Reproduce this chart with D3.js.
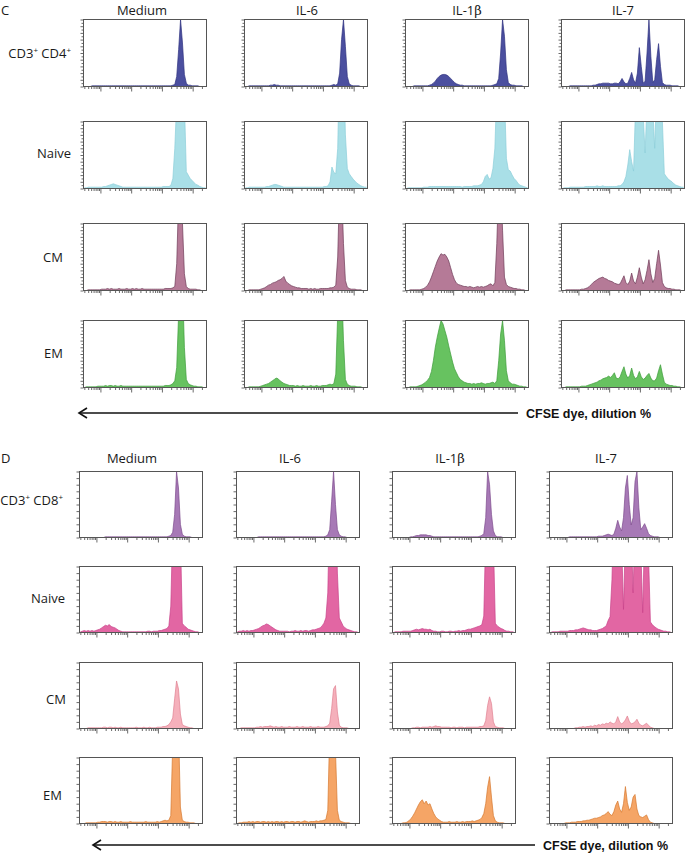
<!DOCTYPE html>
<html><head><meta charset="utf-8">
<script src="https://cdn.jsdelivr.net/npm/d3@7"></script>
<style>body{margin:0;background:#fff}svg{display:block}</style>
</head><body>
<svg id="chart" width="687" height="853"></svg>
<script>
// ---------- categories / labels ----------
const conditions = ["Medium", "IL-6", "IL-1β", "IL-7"];
const rowLabelsC = ["CD3+ CD4+", "Naive", "CM", "EM"];
const rowLabelsD = ["CD3+ CD8+", "Naive", "CM", "EM"];
const axisLabel = "CFSE dye, dilution %";
const panelLetters = ["C", "D"];
// y ticks (% of max count), x log decades
const yTicks = [0,10,20,30,40,50,60,70,80,90,100];
const xDecades = [1, 10, 100, 1000, 10000];

// ---------- histogram values (64 log-spaced CFSE bins, % of max) ----------
const C_CD4_Medium = [0,0,0,0,1,1,1,1, 1,1,1,1,1,1,1,1, 1,1,1,1,1,1,1,1, 1,1,1,1,1,1,1,1, 1,1,1,1,1,1,1,1, 1,1,1,1,1,1,2,3, 15,55,100,65,18,5,2,2, 1,1,1,1,0,0,0,0];
const C_CD4_IL6 = [0,0,1,1,1,1,1,1, 1,1,1,1,1,2,2,3, 2,2,1,1,1,1,1,1, 1,1,1,1,1,1,1,1, 1,1,1,1,1,1,1,1, 1,1,1,1,1,2,3,2, 4,20,70,100,60,15,4,2, 1,1,1,1,0,0,0,0];
const C_CD4_IL1b = [0,0,0,0,1,1,1,1, 1,1,1,1,2,3,5,8, 12,15,17,18,18,17,15,12, 9,6,4,3,2,2,1,1, 1,1,1,1,1,1,1,1, 1,1,1,1,1,2,3,4, 12,50,100,75,25,6,3,2, 2,1,1,1,1,0,0,0];
const C_CD4_IL7 = [0,0,0,0,1,1,1,1, 1,1,1,1,1,1,1,1, 2,2,3,4,4,5,5,5, 5,4,4,5,5,4,7,12, 7,4,5,12,21,10,5,20, 58,30,5,8,50,100,45,6, 10,40,64,30,6,3,2,2, 2,1,1,1,1,0,0,0];

const C_Naive_Medium = [1,1,2,2,2,2,2,2, 2,2,3,3,4,5,6,7, 6,5,4,3,2,2,2,2, 2,2,2,2,2,2,2,2, 2,2,2,2,2,2,2,2, 2,3,3,3,3,5,15,60, 130,200,200,200,130,25,20,15, 12,9,6,5,3,2,1,1];
const C_Naive_IL6 = [1,1,2,2,2,2,2,2, 2,2,2,3,3,4,5,6, 6,5,4,3,2,2,2,2, 2,2,2,2,2,2,2,2, 2,2,2,2,2,2,2,2, 2,3,3,4,10,32,24,22, 60,200,200,200,80,30,22,18, 14,11,8,6,4,3,2,2];
const C_Naive_IL1b = [0,1,1,1,1,1,1,1, 1,2,2,2,3,3,3,3, 3,3,3,3,3,3,3,3, 3,3,3,3,3,2,3,3, 3,3,3,4,4,4,5,6, 10,18,21,14,16,30,60,150, 200,200,200,140,45,28,26,20, 15,12,8,5,4,3,2,1];
const C_Naive_IL7 = [0,1,1,1,2,2,2,2, 2,2,2,2,3,3,3,3, 3,3,4,3,3,4,3,3, 3,3,3,3,3,4,4,6, 10,18,35,58,40,26,120,200, 200,200,110,53,130,200,200,120, 60,150,200,200,100,22,18,14, 12,10,7,5,4,3,2,2];

const C_CM_Medium = [0,0,1,1,1,1,1,1, 1,2,2,2,3,2,3,2, 2,2,3,2,2,2,3,2, 2,3,2,3,2,2,3,2, 2,2,2,2,2,2,2,2, 2,2,3,3,3,3,4,6, 40,140,160,100,25,6,3,2, 2,2,2,1,1,0,0,0];
const C_CM_IL6 = [0,0,1,1,1,1,1,1, 2,3,4,6,8,9,11,12, 13,15,16,18,21,14,11,9, 7,6,5,4,4,3,3,3, 3,2,3,2,3,2,2,3, 3,3,3,3,4,4,5,8, 50,160,160,70,15,5,3,2, 2,2,1,1,1,0,0,0];
const C_CM_IL1b = [0,0,1,1,1,1,1,1, 2,3,5,8,13,20,28,36, 44,50,55,53,54,50,44,34, 24,16,11,9,8,7,6,6, 5,6,5,4,5,6,5,6, 5,6,7,9,10,7,12,70, 160,170,90,20,9,6,5,4, 3,3,2,2,1,1,0,0];
const C_CM_IL7 = [0,0,1,1,1,1,1,1, 1,1,2,2,3,4,6,9, 12,14,16,18,19,20,18,17, 15,14,13,11,10,9,10,16, 22,12,9,14,26,14,10,20, 34,20,10,16,30,46,25,12, 18,40,60,38,12,6,4,3, 3,2,2,1,1,1,0,0];

const C_EM_Medium = [0,1,1,1,1,1,1,2, 2,2,2,3,2,3,3,2, 3,2,2,3,2,2,2,2, 2,2,2,2,2,2,2,2, 2,2,2,2,2,2,2,2, 2,2,3,3,3,4,6,10, 30,110,160,160,60,12,6,4, 3,2,2,1,1,1,0,0];
const C_EM_IL6 = [0,0,1,1,1,1,1,1, 2,3,4,5,6,8,10,12, 14,13,10,8,6,5,4,3, 3,3,2,3,2,2,3,2, 2,2,3,2,2,3,2,2, 3,3,3,4,5,4,6,20, 110,160,160,70,12,5,3,2, 2,2,1,1,1,0,0,0];
const C_EM_IL1b = [0,0,1,1,1,1,2,3, 4,6,8,11,15,24,40,60, 75,88,100,95,85,75,62,50, 38,28,22,16,12,10,8,7, 6,6,5,6,5,6,6,7, 6,5,6,6,7,8,6,10, 40,80,100,70,25,10,7,5, 5,4,3,2,2,1,1,0];
const C_EM_IL7 = [0,0,1,1,1,1,1,1, 1,1,2,2,2,3,4,5, 6,7,8,10,11,13,14,15, 17,15,18,22,14,13,16,24, 31,20,14,18,29,18,13,16, 24,16,12,14,18,21,14,10, 10,14,25,34,20,8,5,4, 3,3,2,2,1,1,0,0];

const D_CD8_Medium = [0,0,0,0,0,0,0,0, 0,0,0,0,0,1,1,1, 1,1,1,1,1,1,1,1, 1,1,1,1,1,1,1,1, 1,1,1,1,1,1,1,1, 1,1,1,1,1,1,2,3, 8,35,100,75,20,5,2,1, 1,1,0,0,0,0,0,0];
const D_CD8_IL6 = [0,0,0,0,0,0,0,0, 0,0,0,1,1,1,1,1, 1,1,1,1,1,1,1,1, 1,1,1,1,1,1,1,1, 1,1,1,1,1,1,1,1, 1,1,1,1,1,1,2,4, 12,55,100,50,12,4,2,1, 1,0,0,0,0,0,0,0];
const D_CD8_IL1b = [0,0,0,0,0,0,0,0, 0,1,1,2,3,3,4,4, 4,4,3,3,2,1,1,1, 1,1,1,1,1,1,1,1, 1,1,1,1,1,1,1,1, 1,1,1,1,1,2,3,6, 30,100,80,35,10,3,1,1, 1,0,0,0,0,0,0,0];
const D_CD8_IL7 = [0,0,0,0,0,0,0,0, 0,0,1,1,1,1,1,1, 1,1,1,1,1,1,1,1, 1,2,2,2,3,4,5,4, 3,5,14,26,16,10,30,75, 94,50,19,30,85,100,45,12, 16,21,14,6,3,2,1,1, 1,0,0,0,0,0,0,0];

const D_Naive_Medium = [1,2,3,2,3,2,3,2, 3,4,5,7,9,11,10,12, 9,8,7,5,3,2,1,1, 1,1,1,1,1,1,1,1, 1,1,1,2,2,1,2,2, 2,3,3,4,5,6,10,40, 160,200,200,200,150,14,10,8, 5,4,3,2,1,1,0,0];
const D_Naive_IL6 = [1,2,2,3,2,3,2,3, 3,4,5,6,8,10,11,13, 12,10,8,6,4,3,2,2, 2,2,2,1,2,2,3,2, 2,3,2,3,3,2,3,4, 4,5,6,7,10,14,22,60, 200,200,200,200,90,22,16,10, 7,5,4,3,2,1,1,0];
const D_Naive_IL1b = [0,1,1,1,1,2,2,2, 2,2,3,4,5,4,5,6, 5,5,4,5,3,2,2,1, 1,2,2,1,1,2,2,1, 2,2,3,2,3,3,4,5, 5,6,7,8,9,10,12,25, 150,200,200,200,140,14,10,8, 6,5,3,2,2,1,1,0];
const D_Naive_IL7 = [0,1,1,1,1,2,2,2, 2,2,3,3,3,4,4,5, 6,7,6,5,4,4,3,3, 3,4,5,6,8,10,18,24, 80,200,200,200,200,140,35,150, 200,200,160,60,170,200,200,130, 30,160,200,120,16,12,9,7, 5,4,3,2,2,1,1,0];

const D_CM_Medium = [0,0,0,0,1,1,1,1, 1,1,1,1,2,2,1,2, 2,1,2,1,1,2,1,1, 1,1,1,1,1,2,1,1, 1,2,1,1,2,1,1,1, 2,2,2,3,3,4,6,10, 16,45,72,60,22,6,4,3, 2,1,1,0,0,0,0,0];
const D_CM_IL6 = [0,0,1,1,1,1,1,1, 1,1,2,2,3,2,3,3, 3,4,3,2,3,2,2,3, 2,2,2,3,2,2,2,3, 2,2,3,2,2,2,3,2, 2,2,3,2,2,2,3,4, 8,30,60,65,25,5,2,1, 1,1,0,0,0,0,0,0];
const D_CM_IL1b = [0,0,0,0,0,0,0,0, 0,0,1,1,2,2,1,2, 2,2,2,3,2,3,4,3, 3,2,2,2,2,2,1,2, 2,1,2,2,2,1,2,2, 2,2,2,2,2,3,3,4, 12,35,48,38,10,3,2,1, 1,1,0,0,0,0,0,0];
const D_CM_IL7 = [0,0,0,0,0,0,0,0, 0,0,0,0,0,1,1,2, 2,3,2,3,3,4,3,5, 4,6,5,7,6,8,7,10, 8,7,10,18,10,7,9,13, 19,11,7,8,10,14,8,5, 4,6,8,5,2,1,0,0, 0,0,0,0,0,0,0,0];

const D_EM_Medium = [0,0,0,1,1,1,1,1, 1,2,2,3,3,3,2,3, 3,2,3,2,2,3,2,2, 2,2,3,2,2,2,2,2, 2,2,3,2,2,2,2,2, 3,2,3,4,5,4,5,12, 120,200,200,150,25,5,3,2, 2,1,1,1,0,0,0,0];
const D_EM_IL6 = [0,1,1,2,2,2,3,2, 3,2,3,3,2,3,3,2, 3,2,3,2,3,3,2,3, 2,3,3,2,3,3,2,3, 3,2,3,4,3,2,3,3, 3,4,3,4,4,5,6,20, 140,200,200,110,20,5,3,2, 1,1,1,0,0,0,0,0];
const D_EM_IL1b = [0,0,0,0,0,1,1,2, 4,7,11,16,22,28,33,36, 30,34,28,30,22,15,10,7, 5,3,2,2,2,3,2,2, 2,3,2,2,3,2,3,3, 3,4,3,4,5,6,9,15, 30,55,71,40,12,4,2,1, 1,1,0,0,0,0,0,0];
const D_EM_IL7 = [0,0,0,0,0,0,0,0, 1,1,1,2,2,2,3,3, 3,4,4,5,5,6,7,8, 8,9,10,12,13,15,18,14, 12,18,28,34,22,17,30,56, 32,20,25,40,44,22,12,10, 9,11,13,6,2,1,0,0, 0,0,0,0,0,0,0,0];

const panelCData = [
  [C_CD4_Medium, C_CD4_IL6, C_CD4_IL1b, C_CD4_IL7],
  [C_Naive_Medium, C_Naive_IL6, C_Naive_IL1b, C_Naive_IL7],
  [C_CM_Medium, C_CM_IL6, C_CM_IL1b, C_CM_IL7],
  [C_EM_Medium, C_EM_IL6, C_EM_IL1b, C_EM_IL7]
];
const panelDData = [
  [D_CD8_Medium, D_CD8_IL6, D_CD8_IL1b, D_CD8_IL7],
  [D_Naive_Medium, D_Naive_IL6, D_Naive_IL1b, D_Naive_IL7],
  [D_CM_Medium, D_CM_IL6, D_CM_IL1b, D_CM_IL7],
  [D_EM_Medium, D_EM_IL6, D_EM_IL1b, D_EM_IL7]
];

// ---------- styles / layout (kept apart from data) ----------
const colorsC = [["#4b4f9f","#2f3280"],["#a9dfe7","#8ccfda"],["#b57a97","#6f3b58"],["#67c260","#3e9c3b"]];
const colorsD = [["#a779b6","#7c4b8d"],["#e266a3","#c8428a"],["#f5b0bb","#e07f90"],["#f5a566","#d6782f"]];
const font = "'Open Sans', 'Noto Sans', sans-serif";

const layoutC = {letterY:15, titleY:15, titleX:[142,307,467,623], cols:[83,244,405,561], rows:[19,121,223,320], w:123, h:67,
  labelX:[71,71,63,63], labelY:[58,158,262,358], arrowY:413, arrowX0:79, arrowX1:518, axisTextX:526, minorY:true};
const layoutD = {letterY:463, titleY:463, titleX:[132,290,450,606], cols:[79,236,392,549], rows:[471,566,662,757], w:123, h:66,
  labelX:[63,65,66,62], labelY:[505,603,704,800], arrowY:845, arrowX0:93, arrowX1:535, axisTextX:543, minorY:false};

const nBins = 64;
const lo = 0.45, hi = 4.45;
const binCenters = d3.range(nBins).map(i => Math.pow(10, lo + (hi - lo) * (i + 0.5) / nBins));

const svg = d3.select("#chart");
const defs = svg.append("defs");
let clipId = 0;

function labelText(g, str, x, y, anchor) {
  const t = g.append("text").attr("x", x).attr("y", y).attr("text-anchor", anchor)
    .attr("font-family", font).attr("font-size", 13).attr("fill", "#1a1a1a");
  // superscript "+" signs, serif beta
  const parts = str.split(/(\+|β)/).filter(s => s.length);
  let pendingDy = 0;
  parts.forEach(p => {
    let ts;
    if (p === "+") {
      ts = t.append("tspan").text("+").attr("font-size", 8).attr("dy", -5 + pendingDy);
      pendingDy = 5;
      return;
    } else if (p === "β") {
      ts = t.append("tspan").text("β").attr("font-family", "'DejaVu Serif', 'Liberation Serif', serif");
    } else {
      ts = t.append("tspan").text(p);
    }
    if (pendingDy) { ts.attr("dy", pendingDy); pendingDy = 0; }
  });
  return t;
}

function drawHist(g, values, fill, stroke, w, h, minorY) {
  const x = d3.scaleLog().domain([Math.pow(10, lo), Math.pow(10, hi)]).range([0, w]);
  const y = d3.scaleLinear().domain([0, 100]).range([h, 0]);
  const id = "clip" + (clipId++);
  defs.append("clipPath").attr("id", id).append("rect").attr("width", w).attr("height", h);

  const area = d3.area().x((d, i) => x(binCenters[i])).y0(h).y1(d => y(d));
  const line = d3.line().x((d, i) => x(binCenters[i])).y(d => y(d));
  const gc = g.append("g").attr("clip-path", `url(#${id})`);
  gc.append("path").datum(values).attr("d", area).attr("fill", fill);
  gc.append("path").datum(values).attr("d", line).attr("fill", "none").attr("stroke", stroke).attr("stroke-width", 0.7);

  // bottom log axis
  const xt = [];
  xDecades.forEach(dec => { for (let m = 1; m <= 9; m++) { const v = m * dec; if (v >= x.domain()[0] && v <= x.domain()[1]) xt.push(v); } });
  const ax = g.append("g").attr("transform", `translate(0,${h})`)
    .call(d3.axisBottom(x).tickValues(xt).tickFormat("").tickSizeOuter(0));
  ax.select(".domain").remove();
  ax.selectAll(".tick line").attr("stroke", "#444").attr("stroke-width", 0.8)
    .attr("y2", d => (Math.abs(Math.log10(d) - Math.round(Math.log10(d))) < 1e-9) ? 5 : 2.5);

  // left linear axis
  let yt = yTicks.slice();
  if (minorY) yt = d3.range(0, 101, 5);
  const ay = g.append("g").call(d3.axisLeft(y).tickValues(yt).tickFormat("").tickSizeOuter(0));
  ay.select(".domain").remove();
  ay.selectAll(".tick line").attr("stroke", "#444").attr("stroke-width", 0.8)
    .attr("x2", d => (d % 10 === 0) ? -3 : -2);

  g.append("rect").attr("width", w).attr("height", h).attr("fill", "none")
    .attr("stroke", "#555").attr("stroke-width", 1);
}

function drawPanel(letter, layout, data, colors, rowLabels) {
  svg.append("text").attr("x", 1).attr("y", layout.letterY).text(letter)
    .attr("font-family", font).attr("font-size", 13).attr("fill", "#1a1a1a");
  conditions.forEach((c, j) => labelText(svg, c, layout.titleX[j], layout.titleY, "middle"));
  rowLabels.forEach((r, i) => labelText(svg, r, layout.labelX[i], layout.labelY[i], "end"));
  data.forEach((row, i) => row.forEach((vals, j) => {
    const g = svg.append("g").attr("transform", `translate(${layout.cols[j] + 0.5},${layout.rows[i] + 0.5})`);
    drawHist(g, vals, colors[i][0], colors[i][1], layout.w, layout.h, layout.minorY);
  }));
  // arrow
  const ay = layout.arrowY;
  svg.append("line").attr("x1", layout.arrowX0).attr("x2", layout.arrowX1).attr("y1", ay).attr("y2", ay)
    .attr("stroke", "#111").attr("stroke-width", 1.6);
  svg.append("path").attr("d", `M${layout.arrowX0 + 8},${ay - 5} L${layout.arrowX0},${ay} L${layout.arrowX0 + 8},${ay + 5}`)
    .attr("fill", "none").attr("stroke", "#111").attr("stroke-width", 1.6);
  svg.append("text").attr("x", layout.axisTextX).attr("y", ay + 4.5).text(axisLabel)
    .attr("font-family", "'Liberation Sans', Arial, sans-serif").attr("font-weight", "bold")
    .attr("font-size", 12.5).attr("fill", "#111");
}

drawPanel(panelLetters[0], layoutC, panelCData, colorsC, rowLabelsC);
drawPanel(panelLetters[1], layoutD, panelDData, colorsD, rowLabelsD);
</script>
</body></html>
